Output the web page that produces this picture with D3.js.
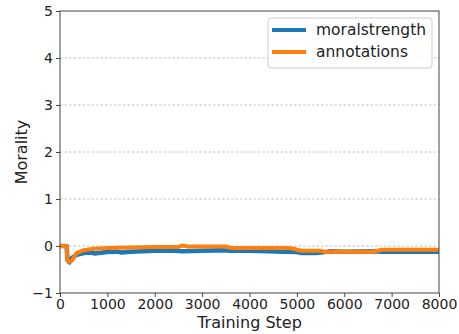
<!DOCTYPE html>
<html><head><meta charset="utf-8">
<script src="https://cdn.jsdelivr.net/npm/d3@7"></script>
<style>body{margin:0;background:#fff}svg{display:block}text{font-family:"DejaVu Sans",sans-serif;fill:#222}</style>
</head><body><svg id="c" width="459" height="334"></svg>
<script>
const seriesNames = ["moralstrength", "annotations"];
const colors = ["#1f77b4", "#ff7f0e"];
const msSteps = [0, 140, 160, 200, 260, 350, 500, 700, 720, 1000, 1200, 1300, 1500, 2000, 2400, 2600, 3000, 3400, 3600, 4000, 4400, 4700, 5000, 5100, 5400, 5600, 5700, 6000, 6600, 6800, 8000];
const msValues = [0, 0, -0.3, -0.35, -0.25, -0.19, -0.15, -0.14, -0.16, -0.13, -0.12, -0.14, -0.12, -0.1, -0.1, -0.11, -0.1, -0.09, -0.1, -0.1, -0.11, -0.12, -0.13, -0.15, -0.15, -0.13, -0.11, -0.12, -0.11, -0.12, -0.12];
const anSteps = [0, 140, 150, 180, 260, 350, 500, 700, 1000, 1500, 2000, 2500, 2580, 2700, 3000, 3500, 3600, 4000, 4800, 4950, 5000, 5100, 5500, 5600, 5700, 6000, 6600, 6700, 6800, 8000];
const anValues = [0, 0, -0.3, -0.34, -0.3, -0.15, -0.09, -0.06, -0.04, -0.03, -0.02, -0.02, 0.01, -0.01, -0.01, -0.01, -0.04, -0.04, -0.04, -0.06, -0.08, -0.1, -0.1, -0.13, -0.12, -0.12, -0.12, -0.1, -0.08, -0.08];
const xTicks = [0, 1000, 2000, 3000, 4000, 5000, 6000, 7000, 8000];
const yTicks = [-1, 0, 1, 2, 3, 4, 5];

const svg = d3.select("#c");
const m = {l:60, r:20, t:11, b:41};
const W = 459, H = 334;
const x = d3.scaleLinear().domain([0, 8000]).range([m.l, W - m.r]);
const y = d3.scaleLinear().domain([-1, 5]).range([H - m.b, m.t]);

// grid
svg.append("g").selectAll("line").data(yTicks.filter(d => d > -1 && d < 5)).join("line")
  .attr("x1", m.l).attr("x2", W - m.r).attr("y1", d => y(d)).attr("y2", d => y(d))
  .attr("stroke", "#b0b0b0").attr("stroke-width", 0.8).attr("stroke-dasharray", "2.5,2");

const line = d3.line().x(d => x(d[0])).y(d => y(d[1]));
const data = [d3.zip(msSteps, msValues), d3.zip(anSteps, anValues)];
svg.append("clipPath").attr("id","cp").append("rect")
  .attr("x", m.l).attr("y", m.t).attr("width", W - m.r - m.l).attr("height", H - m.b - m.t);
svg.append("g").attr("clip-path","url(#cp)").selectAll("path").data(data).join("path")
  .attr("d", line).attr("fill", "none").attr("stroke", (d,i) => colors[i])
  .attr("stroke-width", (d,i) => i === 0 ? 4.5 : 4).attr("stroke-linejoin", "round");

// frame
svg.append("rect").attr("x", m.l).attr("y", m.t).attr("width", W - m.r - m.l).attr("height", H - m.b - m.t)
  .attr("fill", "none").attr("stroke", "#444").attr("stroke-width", 1);

const xa = svg.append("g").attr("transform", `translate(0,${H - m.b})`)
  .call(d3.axisBottom(x).tickValues(xTicks).tickFormat(d3.format("d")).tickSize(4).tickPadding(2));
const ya = svg.append("g").attr("transform", `translate(${m.l},0)`)
  .call(d3.axisLeft(y).tickValues(yTicks).tickFormat(d => d < 0 ? "\u2212" + Math.abs(d) : d).tickSize(4).tickPadding(3));
[xa, ya].forEach(a => {
  a.select(".domain").remove();
  a.selectAll("line").attr("stroke", "#444");
  a.selectAll("text").attr("font-size", 14).attr("font-family", "DejaVu Sans").attr("fill", "#222");
});

svg.append("text").attr("x", (m.l + W - m.r) / 2).attr("y", 328).attr("text-anchor", "middle")
  .attr("font-size", 16).text("Training Step");
svg.append("text").attr("transform", `translate(27,${(m.t + H - m.b) / 2}) rotate(-90)`)
  .attr("text-anchor", "middle").attr("font-size", 16).text("Morality");

// legend
const lg = svg.append("g").attr("transform", "translate(268,18)");
lg.append("rect").attr("width", 164).attr("height", 50).attr("rx", 3)
  .attr("fill", "#fff").attr("fill-opacity", 0.8).attr("stroke", "#ccc");
seriesNames.forEach((n, i) => {
  const yy = 12 + i * 22;
  lg.append("line").attr("x1", 4).attr("x2", 38).attr("y1", yy).attr("y2", yy)
    .attr("stroke", colors[i]).attr("stroke-width", 4);
  lg.append("text").attr("x", 48).attr("y", yy + 5).attr("font-size", 15.5).text(n);
});
</script></body></html>
